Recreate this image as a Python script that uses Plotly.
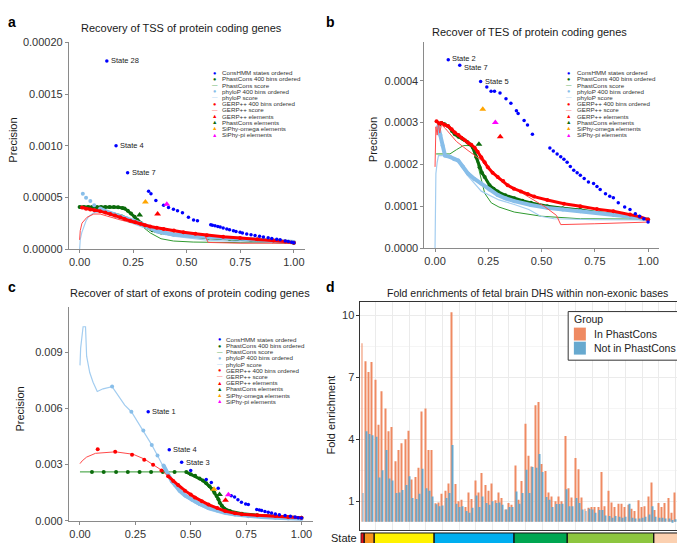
import plotly.graph_objects as go

W, H = 685, 543

# Recall (x) / precision (y) points.
# Precision units: panel a x1e-5, panel b x1e-4, panel c x1e-3.

# ---- panel a : TSS
A_CONSHMM = [(0.127, 18.2), (0.17, 10.0), (0.224, 7.39), (0.322, 5.6), (0.333, 5.35), (0.356, 4.72),
             (0.392, 4.25), (0.415, 4.03), (0.438, 3.87), (0.457, 3.71), (0.48, 3.52), (0.508, 3.08),
             (0.532, 2.83), (0.55, 2.74), (0.612, 2.36), (0.62, 2.32), (0.632, 2.27), (0.645, 2.2),
             (0.656, 2.14), (0.67, 2.05), (0.687, 1.95), (0.70, 1.88), (0.718, 1.79), (0.73, 1.72),
             (0.749, 1.63), (0.76, 1.57), (0.78, 1.48), (0.80, 1.40), (0.819, 1.32), (0.84, 1.25),
             (0.858, 1.19), (0.88, 1.1), (0.897, 1.04), (0.92, 0.96), (0.936, 0.91), (0.96, 0.8),
             (0.974, 0.75), (0.99, 0.68), (1.0, 0.63)]
A_STATE_LABELS = ["State 28", "State 4", "State 7"]
A_PHASTCONS_BINS = [(0.0, 4.09), (0.02, 4.09), (0.04, 4.09), (0.06, 4.09), (0.08, 4.09), (0.10, 4.09),
                    (0.12, 4.09), (0.14, 4.08), (0.16, 4.07), (0.18, 4.05), (0.2, 3.98), (0.21, 3.93),
                    (0.225, 3.71), (0.24, 3.46), (0.256, 3.14), (0.27, 2.83), (0.287, 2.52), (0.31, 2.14),
                    (0.34, 1.82), (0.38, 1.62), (0.44, 1.42), (0.52, 1.24), (0.6, 1.1), (0.7, 0.98),
                    (0.8, 0.86), (0.9, 0.76), (1.0, 0.63)]
A_PHASTCONS_SCORE = [(0.0, 4.0), (0.1, 3.8), (0.2, 3.3), (0.28, 2.4), (0.33, 1.57), (0.38, 1.01),
                     (0.438, 0.79), (0.53, 0.69), (0.749, 0.63), (1.0, 0.63)]
A_PHYLOP_BINS = [(0.015, 5.35), (0.03, 4.97), (0.05, 4.66), (0.068, 4.25), (0.096, 3.93), (0.127, 3.62),
                 (0.16, 3.4), (0.19, 3.21), (0.22, 2.98), (0.252, 2.74), (0.283, 2.5), (0.314, 2.27),
                 (0.34, 2.0), (0.36, 1.73), (0.4, 1.55), (0.438, 1.42), (0.52, 1.27), (0.594, 1.16),
                 (0.67, 1.08), (0.749, 1.01), (0.83, 0.93), (0.905, 0.85), (1.0, 0.69)]
A_PHYLOP_SCORE = [(0.0, 0.0), (0.003, 0.94), (0.01, 1.6), (0.019, 2.2), (0.03, 2.75), (0.042, 3.14),
                  (0.066, 3.52), (0.089, 3.62), (0.113, 3.52), (0.16, 3.14), (0.222, 2.67), (0.283, 2.27),
                  (0.36, 1.64), (0.438, 1.26), (0.52, 1.05), (0.594, 0.88), (0.749, 0.72), (1.0, 0.63)]
A_GERP_BINS = [(0.011, 4.03), (0.03, 3.92), (0.05, 3.84), (0.07, 3.76), (0.096, 3.68), (0.12, 3.55),
               (0.143, 3.4), (0.165, 3.25), (0.19, 3.08), (0.21, 2.92), (0.236, 2.74), (0.26, 2.6),
               (0.283, 2.45), (0.305, 2.32), (0.329, 2.2), (0.36, 2.08), (0.392, 1.95), (0.44, 1.8),
               (0.485, 1.64), (0.54, 1.5), (0.594, 1.35), (0.67, 1.2), (0.749, 1.07), (0.83, 0.95),
               (0.905, 0.85), (0.96, 0.74), (1.0, 0.63)]
A_GERP_SCORE = [(0.0, 0.9), (0.003, 1.8), (0.011, 2.52), (0.034, 3.08), (0.066, 3.4), (0.096, 3.4),
                (0.127, 3.21), (0.19, 2.83), (0.283, 2.36), (0.36, 2.04), (0.438, 1.73), (0.5, 1.55),
                (0.563, 1.42), (0.585, 1.3), (0.6, 0.65), (0.749, 0.58), (1.0, 0.58)]
A_GERP_ELEMENTS = [(0.364, 3.4)]
A_PHASTCONS_ELEMENTS = [(0.28, 3.3)]
A_SIPHY_OMEGA = [(0.307, 4.56)]
A_SIPHY_PI = [(0.407, 4.34)]

# ---- panel b : TES
B_CONSHMM = [(0.062, 4.5), (0.116, 4.37), (0.214, 3.98), (0.243, 3.85), (0.263, 3.75), (0.279, 3.75),
             (0.305, 3.71), (0.333, 3.57), (0.356, 3.46), (0.382, 3.28), (0.39, 3.22), (0.418, 3.05),
             (0.434, 2.94), (0.457, 2.72), (0.539, 2.39), (0.555, 2.32), (0.573, 2.25), (0.59, 2.18),
             (0.605, 2.12), (0.62, 2.05), (0.635, 1.95), (0.651, 1.86), (0.667, 1.8), (0.682, 1.74),
             (0.7, 1.66), (0.72, 1.58), (0.744, 1.54), (0.76, 1.47), (0.775, 1.4), (0.8, 1.3),
             (0.82, 1.24), (0.837, 1.2), (0.86, 1.08), (0.89, 0.98), (0.915, 0.92), (0.94, 0.82),
             (0.96, 0.76), (0.98, 0.7), (1.0, 0.62)]
B_STATE_LABELS = ["State 2", "State 7", "State 5"]
B_PHASTCONS_BINS = [(0.02, 2.95), (0.03, 2.99), (0.045, 2.96), (0.062, 2.91), (0.08, 2.8), (0.093, 2.72),
                    (0.11, 2.66), (0.132, 2.6), (0.15, 2.54), (0.163, 2.48), (0.178, 2.4), (0.194, 2.17),
                    (0.209, 1.93), (0.22, 1.8), (0.233, 1.7), (0.256, 1.5), (0.275, 1.42), (0.294, 1.35),
                    (0.33, 1.26), (0.372, 1.19), (0.41, 1.13), (0.45, 1.08), (0.527, 1.0), (0.6, 0.95),
                    (0.682, 0.91), (0.76, 0.85), (0.837, 0.8), (0.92, 0.75), (1.0, 0.68)]
B_PHASTCONS_SCORE = [(0.005, 2.25), (0.07, 2.25), (0.1, 2.35), (0.133, 2.45), (0.17, 2.45), (0.2, 2.0),
                     (0.233, 1.31), (0.264, 1.08), (0.3, 0.98), (0.372, 0.86), (0.5, 0.76), (0.682, 0.7),
                     (1.0, 0.69)]
B_PHYLOP_BINS = [(0.015, 2.91), (0.025, 2.7), (0.035, 2.45), (0.047, 2.21), (0.07, 2.18), (0.09, 2.12),
                 (0.109, 2.09), (0.13, 1.95), (0.155, 1.78), (0.185, 1.65), (0.217, 1.54), (0.255, 1.4),
                 (0.294, 1.27), (0.33, 1.19), (0.372, 1.12), (0.45, 1.03), (0.527, 0.96), (0.6, 0.92),
                 (0.682, 0.88), (0.76, 0.84), (0.837, 0.8), (0.92, 0.75), (1.0, 0.68)]
B_PHYLOP_SCORE = [(0.0, 0.0), (0.002, 1.0), (0.004, 1.78), (0.01, 2.05), (0.016, 2.21), (0.047, 2.21),
                  (0.08, 2.15), (0.109, 2.07), (0.15, 1.75), (0.217, 1.36), (0.3, 1.15), (0.372, 1.04),
                  (0.44, 0.92), (0.496, 0.76), (0.558, 0.7), (0.75, 0.68), (1.0, 0.67)]
B_GERP_BINS = [(0.007, 3.03), (0.02, 2.98), (0.03, 2.99), (0.045, 2.95), (0.062, 2.91), (0.078, 2.84),
               (0.093, 2.76), (0.11, 2.7), (0.124, 2.64), (0.14, 2.58), (0.155, 2.52), (0.17, 2.47),
               (0.186, 2.4), (0.2, 2.3), (0.217, 2.17), (0.233, 2.05), (0.248, 1.93), (0.27, 1.8),
               (0.294, 1.7), (0.32, 1.6), (0.341, 1.5), (0.37, 1.42), (0.403, 1.35), (0.435, 1.29),
               (0.465, 1.23), (0.527, 1.15), (0.605, 1.06), (0.682, 1.0), (0.76, 0.93), (0.837, 0.88),
               (0.915, 0.8), (0.96, 0.75), (1.0, 0.68)]
B_GERP_SCORE = [(0.0, 1.94), (0.004, 2.9), (0.01, 2.7), (0.016, 3.0), (0.022, 2.75), (0.03, 2.95),
                (0.05, 2.85), (0.1, 2.55), (0.15, 2.35), (0.217, 2.1), (0.294, 1.66), (0.372, 1.43),
                (0.45, 1.2), (0.512, 1.0), (0.57, 0.78), (0.59, 0.56), (0.75, 0.58), (1.0, 0.62)]
B_GERP_ELEMENTS = [(0.306, 2.66)]
B_PHASTCONS_ELEMENTS = [(0.206, 2.48)]
B_SIPHY_OMEGA = [(0.224, 3.32)]
B_SIPHY_PI = [(0.283, 3.0)]

# ---- panel c : start of exons
C_CONSHMM = [(0.308, 5.82), (0.403, 3.79), (0.459, 3.13), (0.5, 2.69), (0.57, 2.2), (0.593, 2.05),
             (0.624, 1.74), (0.683, 1.34), (0.698, 1.27), (0.713, 1.13), (0.729, 0.99), (0.748, 0.9),
             (0.76, 0.87), (0.798, 0.6), (0.81, 0.58), (0.82, 0.55), (0.835, 0.5), (0.85, 0.46),
             (0.865, 0.42), (0.882, 0.37), (0.9, 0.33), (0.926, 0.29), (0.95, 0.24), (0.971, 0.2),
             (0.985, 0.17), (1.0, 0.15)]
C_STATE_LABELS = ["State 1", "State 4", "State 3"]
C_PHASTCONS_BINS = [(0.054, 2.61), (0.107, 2.61), (0.163, 2.61), (0.216, 2.61), (0.269, 2.61),
                    (0.321, 2.61), (0.374, 2.61), (0.427, 2.61), (0.48, 2.6), (0.5, 2.48), (0.52, 2.4),
                    (0.54, 2.26), (0.555, 2.15), (0.57, 2.0), (0.585, 1.85), (0.597, 1.69), (0.607, 1.5),
                    (0.617, 1.32), (0.625, 1.15), (0.631, 0.97), (0.64, 0.8), (0.651, 0.66), (0.677, 0.52),
                    (0.731, 0.38), (0.8, 0.3), (0.882, 0.26), (1.0, 0.17)]
C_PHASTCONS_SCORE = [(0.0, 2.61), (0.48, 2.61)]
C_PHYLOP_BINS = [(0.145, 7.16), (0.232, 5.82), (0.286, 4.82), (0.324, 4.05), (0.35, 3.48), (0.377, 2.95),
                 (0.4, 2.4), (0.415, 2.1), (0.43, 1.9), (0.45, 1.6), (0.475, 1.35), (0.506, 1.13),
                 (0.54, 0.9), (0.58, 0.69), (0.62, 0.55), (0.66, 0.43), (0.7, 0.34), (0.76, 0.25),
                 (0.82, 0.2), (0.882, 0.17), (0.94, 0.13), (1.0, 0.1)]
C_PHYLOP_SCORE = [(0.0, 8.29), (0.003, 9.21), (0.014, 10.35), (0.025, 10.35), (0.03, 8.78), (0.044, 7.91),
                  (0.059, 7.39), (0.078, 6.9), (0.104, 7.04), (0.145, 7.16), (0.172, 6.69), (0.202, 6.17),
                  (0.232, 5.82), (0.26, 5.3), (0.286, 4.82), (0.324, 4.05), (0.35, 3.48), (0.373, 2.95),
                  (0.4, 2.34), (0.43, 1.82), (0.474, 1.3), (0.519, 0.95), (0.58, 0.6), (0.655, 0.35),
                  (0.731, 0.26), (0.882, 0.17), (1.0, 0.12)]
C_GERP_BINS = [(0.08, 3.82), (0.159, 3.68), (0.235, 3.53), (0.29, 3.26), (0.33, 2.99), (0.368, 2.69),
               (0.398, 2.38), (0.421, 2.12), (0.443, 1.91), (0.474, 1.61), (0.5, 1.4), (0.519, 1.25),
               (0.55, 1.05), (0.58, 0.87), (0.62, 0.68), (0.655, 0.52), (0.7, 0.4), (0.731, 0.35),
               (0.8, 0.3), (0.882, 0.26), (0.94, 0.21), (1.0, 0.17)]
C_GERP_SCORE = [(0.0, 3.05), (0.01, 3.2), (0.03, 3.4), (0.07, 3.6), (0.16, 3.68), (0.24, 3.55), (0.29, 3.3),
                (0.33, 3.0), (0.37, 2.69), (0.42, 2.12), (0.47, 1.61), (0.52, 1.25), (0.58, 0.87),
                (0.66, 0.52), (0.73, 0.37), (0.88, 0.28), (1.0, 0.2)]
C_GERP_ELEMENTS = [(0.657, 1.1)]
C_PHASTCONS_ELEMENTS = [(0.63, 1.4)]
C_SIPHY_OMEGA = [(0.605, 1.68)]
C_SIPHY_PI = [(0.67, 1.39)]

# ---- panel d : fold enrichment per ConsHMM state
STATES = list(range(1, 101))
IN_PHASTCONS = [8.64, 7.77, 7.25, 7.73, 6.87, 4.7, 6.32, 5.48, 4.38, 4.59,
                2.93, 3.47, 3.8, 3.99, 4.41, 2.05, 2.17, 2.62, 5.33, 5.48,
                3.47, 3.47, 0.9, 0.94, 1.36, 1.51, 1.86, 10.14, 1.83, 1.0,
                1.07, 0.72, 1.42, 1.1, 2.0, 1.42, 2.36, 1.78, 1.51, 1.86,
                1.04, 1.42, 1.15, 0.6, 0.91, 0.83, 2.73, 1.07, 1.97, 4.74,
                3.2, 2.68, 5.64, 5.8, 2.8, 2.46, 1.42, 1.23, 1.0, 1.23,
                1.0, 4.15, 1.62, 1.18, 3.09, 2.54, 1.18, 0.63, 0.68, 0.72,
                0.72, 0.72, 2.41, 0.75, 1.51, 0.94, 0.72, 0.88, 0.88, 0.72,
                0.83, 0.63, 0.52, 1.04, 0.72, 0.75, 1.23, 1.9, 0.57, 0.91,
                0.72, 0.91, 1.15, 0.44, 1.42, 0.57, 0.57, 0.57, 0.57, 0.5]
NOT_IN_PHASTCONS = [1.39, 4.38, 4.25, 4.19, 4.11, 2.14, 2.49, 3.47, 2.1, 2.0,
                    1.39, 1.42, 1.54, 1.78, 2.2, 1.15, 1.1, 1.36, 2.57, 1.62,
                    1.51, 1.23, 0.85, 0.75, 0.79, 1.15, 1.39, 3.72, 0.88, 0.72,
                    0.75, 0.52, 0.44, 0.68, 1.28, 0.72, 1.23, 0.91, 0.83, 1.0,
                    0.91, 0.94, 0.83, 0.6, 0.72, 0.72, 1.47, 0.88, 1.39, 2.52,
                    1.39, 2.65, 2.62, 3.28, 2.41, 1.2, 1.07, 0.72, 0.86, 0.86,
                    0.88, 1.58, 0.75, 0.75, 1.15, 0.91, 0.6, 0.52, 0.63, 0.6,
                    0.44, 0.57, 0.57, 0.31, 0.28, 0.2, 0.28, 0.25, 0.2, 0.25,
                    0.88, 0.2, 0.16, 0.16, 0.2, 0.25, 0.36, 0.75, 0.25, 0.2,
                    0.2, 0.16, 0.16, 0.09, 0.12, 0.12, 0.2, 0.09, 0.57, 0.3]
GROUP_NAMES = ["In PhastCons", "Not in PhastCons"]
GROUP_COLORS = ["#EF8A62", "#67A9CF"]
STATE_GROUP_SIZES = [1, 3, 18, 24, 16, 26, 10, 2]
STATE_GROUP_COLORS = ["#E8101A", "#F7941D", "#FFF200", "#00AEEF", "#00A651", "#8DC63F", "#FBD0B0", "#A0A0A0"]

LEGEND_LABELS = ["ConsHMM states ordered", "PhastCons 400 bins ordered", "PhastCons score",
                 "phyloP 400 bins ordered", "phyloP score", "GERP++ 400 bins ordered", "GERP++ score",
                 "GERP++ elements", "PhastCons elements", "SiPhy-omega elements", "SiPhy-pi elements"]

FONT = "Liberation Sans, Arial, Helvetica, sans-serif"
AXIS = "#8a8a8a"
C_CONS = "#0000FF"
C_PC = "#0B6B0B"
C_PC_LINE = "#2F9A2F"
C_PP = "#88BEE9"
C_PP_LINE = "#A3CDF0"
C_GERP = "#FF0000"
C_GERP_LINE = "#FF4A4A"
C_OMEGA = "#FFA500"
C_PI = "#FF00FF"
LEGEND_STYLE = [("●", C_CONS), ("●", C_PC), ("—", C_PC_LINE), ("●", C_PP), ("—", C_PP_LINE),
                ("●", C_GERP), ("—", C_GERP_LINE), ("▲", C_GERP), ("▲", C_PC), ("▲", C_OMEGA), ("▲", C_PI)]


def px(x):
    return x / W


def py(y):
    return 1 - y / H


fig = go.Figure()
annotations = []
shapes = []


def note(x, y, text, size, color="#1a1a1a", xanchor="center", angle=0, ref=("paper", "paper"),
         xshift=0, yshift=0):
    annotations.append(dict(x=x, y=y, xref=ref[0], yref=ref[1], text=text, showarrow=False,
                            xanchor=xanchor, yanchor="middle", textangle=angle, xshift=xshift,
                            yshift=yshift, borderpad=0, font=dict(size=size, color=color)))


def add_pr_panel(n, cons, labels, pc_bins, pc_score, pp_bins, pp_score, gerp_bins, gerp_score,
                 gerp_el, pc_el, omega, pi, band_from, label_dy=(0, 0, 0)):
    xa, ya = ("x", "y") if n == 1 else (f"x{n}", f"y{n}")

    def line(pts, color, width):
        fig.add_trace(go.Scatter(x=[p[0] for p in pts], y=[p[1] for p in pts], mode="lines",
                                 line=dict(color=color, width=width), xaxis=xa, yaxis=ya,
                                 showlegend=False, hoverinfo="skip"))

    def dots(pts, color, size, symbol="circle"):
        fig.add_trace(go.Scatter(x=[p[0] for p in pts], y=[p[1] for p in pts], mode="markers",
                                 marker=dict(color=color, size=size, symbol=symbol, line=dict(width=0)),
                                 xaxis=xa, yaxis=ya, showlegend=False))

    line(pc_score, C_PC_LINE, 1)
    line(pc_bins[band_from[0]:], C_PC, 3)
    dots(pc_bins, C_PC, 4)
    line(pp_score, C_PP_LINE, 1.2)
    line(pp_bins[band_from[1]:], C_PP, 4)
    dots(pp_bins, C_PP, 4)
    line(gerp_score, C_GERP_LINE, 1)
    line(gerp_bins[band_from[2]:], C_GERP, 3)
    dots(gerp_bins, C_GERP, 4)
    dots(cons, C_CONS, 3.5)
    dots(gerp_el, C_GERP, 6, "triangle-up")
    dots(pc_el, C_PC, 6, "triangle-up")
    dots(omega, C_OMEGA, 6, "triangle-up")
    dots(pi, C_PI, 6, "triangle-up")
    for lab, (x, y), dy in zip(labels, cons, label_dy):
        note(x, y, lab, 7.5, "#222", "left", ref=(xa, ya), xshift=3, yshift=dy)


add_pr_panel(1, A_CONSHMM, A_STATE_LABELS, A_PHASTCONS_BINS, A_PHASTCONS_SCORE, A_PHYLOP_BINS,
             A_PHYLOP_SCORE, A_GERP_BINS, A_GERP_SCORE, A_GERP_ELEMENTS, A_PHASTCONS_ELEMENTS,
             A_SIPHY_OMEGA, A_SIPHY_PI, (0, 4, 0))
add_pr_panel(2, B_CONSHMM, B_STATE_LABELS, B_PHASTCONS_BINS, B_PHASTCONS_SCORE, B_PHYLOP_BINS,
             B_PHYLOP_SCORE, B_GERP_BINS, B_GERP_SCORE, B_GERP_ELEMENTS, B_PHASTCONS_ELEMENTS,
             B_SIPHY_OMEGA, B_SIPHY_PI, (0, 0, 0), label_dy=(1, -2.5, 0))
add_pr_panel(3, C_CONSHMM, C_STATE_LABELS, C_PHASTCONS_BINS, C_PHASTCONS_SCORE, C_PHYLOP_BINS,
             C_PHYLOP_SCORE, C_GERP_BINS, C_GERP_SCORE, C_GERP_ELEMENTS, C_PHASTCONS_ELEMENTS,
             C_SIPHY_OMEGA, C_SIPHY_PI, (8, 5, 6))

# panel d bars
for name, vals, col in zip(GROUP_NAMES, [IN_PHASTCONS, NOT_IN_PHASTCONS], GROUP_COLORS):
    fig.add_trace(go.Bar(x=STATES, y=vals, name=name, marker=dict(color=col, line_width=0),
                         xaxis="x4", yaxis="y4", showlegend=False))

# state colour strip
group_of_state = []
for k, size in enumerate(STATE_GROUP_SIZES):
    group_of_state += [k] * size
ng = len(STATE_GROUP_COLORS)
scale = []
for k, c in enumerate(STATE_GROUP_COLORS):
    scale += [[k / ng, c], [(k + 1) / ng, c]]
fig.add_trace(go.Heatmap(z=[group_of_state], x=STATES, y=[0], colorscale=scale, zmin=-0.5, zmax=ng - 0.5,
                         showscale=False, xaxis="x5", yaxis="y5", hoverinfo="skip"))
start = 1
for size in STATE_GROUP_SIZES:
    shapes.append(dict(type="rect", xref="x5", yref="paper", x0=start - 0.5, x1=start + size - 0.5,
                       y0=0, y1=py(530.7), line=dict(color="#111", width=1)))
    start += size

# panel d legend box (drawn by hand to match the compact ggplot key)
shapes.append(dict(type="rect", xref="paper", yref="paper", x0=px(561), x1=px(674.3), y0=py(354),
                   y1=py(304.3), line=dict(color="#333", width=1), fillcolor="white"))
note(px(566), py(312), "Group", 10.5, "#222", "left")
for i, (name, col) in enumerate(zip(GROUP_NAMES, GROUP_COLORS)):
    yc = 327.3 + i * 14.4
    shapes.append(dict(type="rect", xref="paper", yref="paper", x0=px(566.7), x1=px(578.7),
                       y0=py(yc + 6.6), y1=py(yc - 6.6), line=dict(width=0), fillcolor=col))
    note(px(585.5), py(yc), name, 10.5, "#222", "left")


def pr_x(x0, x1):
    return dict(domain=[px(x0), px(x1)], range=[-0.05, 1.05], tickvals=[0, 0.25, 0.5, 0.75, 1],
                ticktext=["0.00", "0.25", "0.50", "0.75", "1.00"], showline=True, linecolor=AXIS,
                linewidth=1, ticks="outside", ticklen=3, tickcolor=AXIS, tickfont=dict(size=11, color="#333"),
                showgrid=False, zeroline=False)


def pr_y(y0, y1, top, vals, text, anchor):
    return dict(domain=[py(y0), py(y1)], range=[0, top], tickvals=vals, ticktext=text, showline=True,
                linecolor=AXIS, linewidth=1, ticks="outside", ticklen=3, tickcolor=AXIS,
                tickfont=dict(size=11, color="#333"), showgrid=False, zeroline=False, anchor=anchor)


fig.update_layout(
    width=W, height=H, margin=dict(l=0, r=0, t=0, b=0),
    paper_bgcolor="white", plot_bgcolor="white",
    font=dict(family=FONT, color="#222"), showlegend=False,
    barmode="group", bargap=0.4, bargroupgap=0.0,
    xaxis=dict(pr_x(61, 297), anchor="y"),
    yaxis=pr_y(240.5, 29, 20, [0, 5, 10, 15, 20],
               ["0.00000", "0.00005", "0.0010", "0.0015", "0.00020"], "x"),
    xaxis2=dict(pr_x(417, 651.7), anchor="y2"),
    yaxis2=pr_y(239.3, 28.3, 4.935, [0, 1, 2, 3, 4],
                ["0.0000", "0.0001", "0.0002", "0.0003", "0.0004"], "x2"),
    xaxis3=dict(pr_x(61, 305), anchor="y3"),
    yaxis3=pr_y(518.3, 299.3, 11.42, [0, 3, 6, 9], ["0.000", "0.003", "0.006", "0.009"], "x3"),
    xaxis4=dict(domain=[px(353), 1], range=[0.4, 100.0], anchor="y4", showticklabels=False,
                showgrid=True, gridcolor="#EBEBEB", tick0=0, dtick=5, zeroline=False,
                showline=True, mirror=True, linecolor="#333", linewidth=1),
    yaxis4=dict(domain=[py(528), py(294.3)], range=[-0.41, 10.64], anchor="x4", tickvals=[1, 4, 7, 10],
                ticks="outside", ticklen=3, tickcolor="#333", tickfont=dict(size=11, color="#333"),
                showgrid=True, gridcolor="#EBEBEB", zeroline=False,
                minor=dict(tick0=1, dtick=1.5, showgrid=True, gridcolor="#F5F5F5"),
                showline=True, mirror=True, linecolor="#333", linewidth=1),
    xaxis5=dict(domain=[px(353), 1], range=[0.4, 100.0], anchor="y5", visible=False),
    yaxis5=dict(domain=[0, py(530.7)], range=[-0.5, 0.5], anchor="x5", visible=False),
)

# titles, axis labels, panel letters
note(px(174), py(14), "Recovery of TSS of protein coding genes", 11)
note(px(522), py(18), "Recover of TES of protein coding genes", 11)
note(px(182), py(285), "Recover of start of exons of protein coding genes", 11)
note(px(520), py(285), "Fold enrichments of fetal brain DHS within non-exonic bases", 10.5)
note(px(5.5), py(129), "Precision", 11, angle=-90)
note(px(365.5), py(128), "Precision", 11, angle=-90)
note(px(12.5), py(404), "Precision", 11, angle=-90)
note(px(323), py(410), "Fold enrichment", 11, angle=-90)
note(px(351), py(536), "State", 11, "#1a1a1a", "right")
for letter, x, y in [("a", 4, 8), ("b", 323, 8), ("c", 4, 279), ("d", 323, 279)]:
    note(px(x), py(y), f"<b>{letter}</b>", 14, "#000")

# small per-panel keys: glyph column and label column
for gx, tx, ly in [(207, 213, 60), (561.7, 568.7, 60), (212, 217.3, 332.7)]:
    for i, (lab, (glyph, col)) in enumerate(zip(LEGEND_LABELS, LEGEND_STYLE)):
        yy = py(ly + i * 6.33)
        note(px(gx), yy, glyph, 5.5, col, "center")
        note(px(tx), yy, lab, 6.2, "#333", "left")

fig.update_layout(annotations=annotations, shapes=shapes)
fig.write_html("out.html")
